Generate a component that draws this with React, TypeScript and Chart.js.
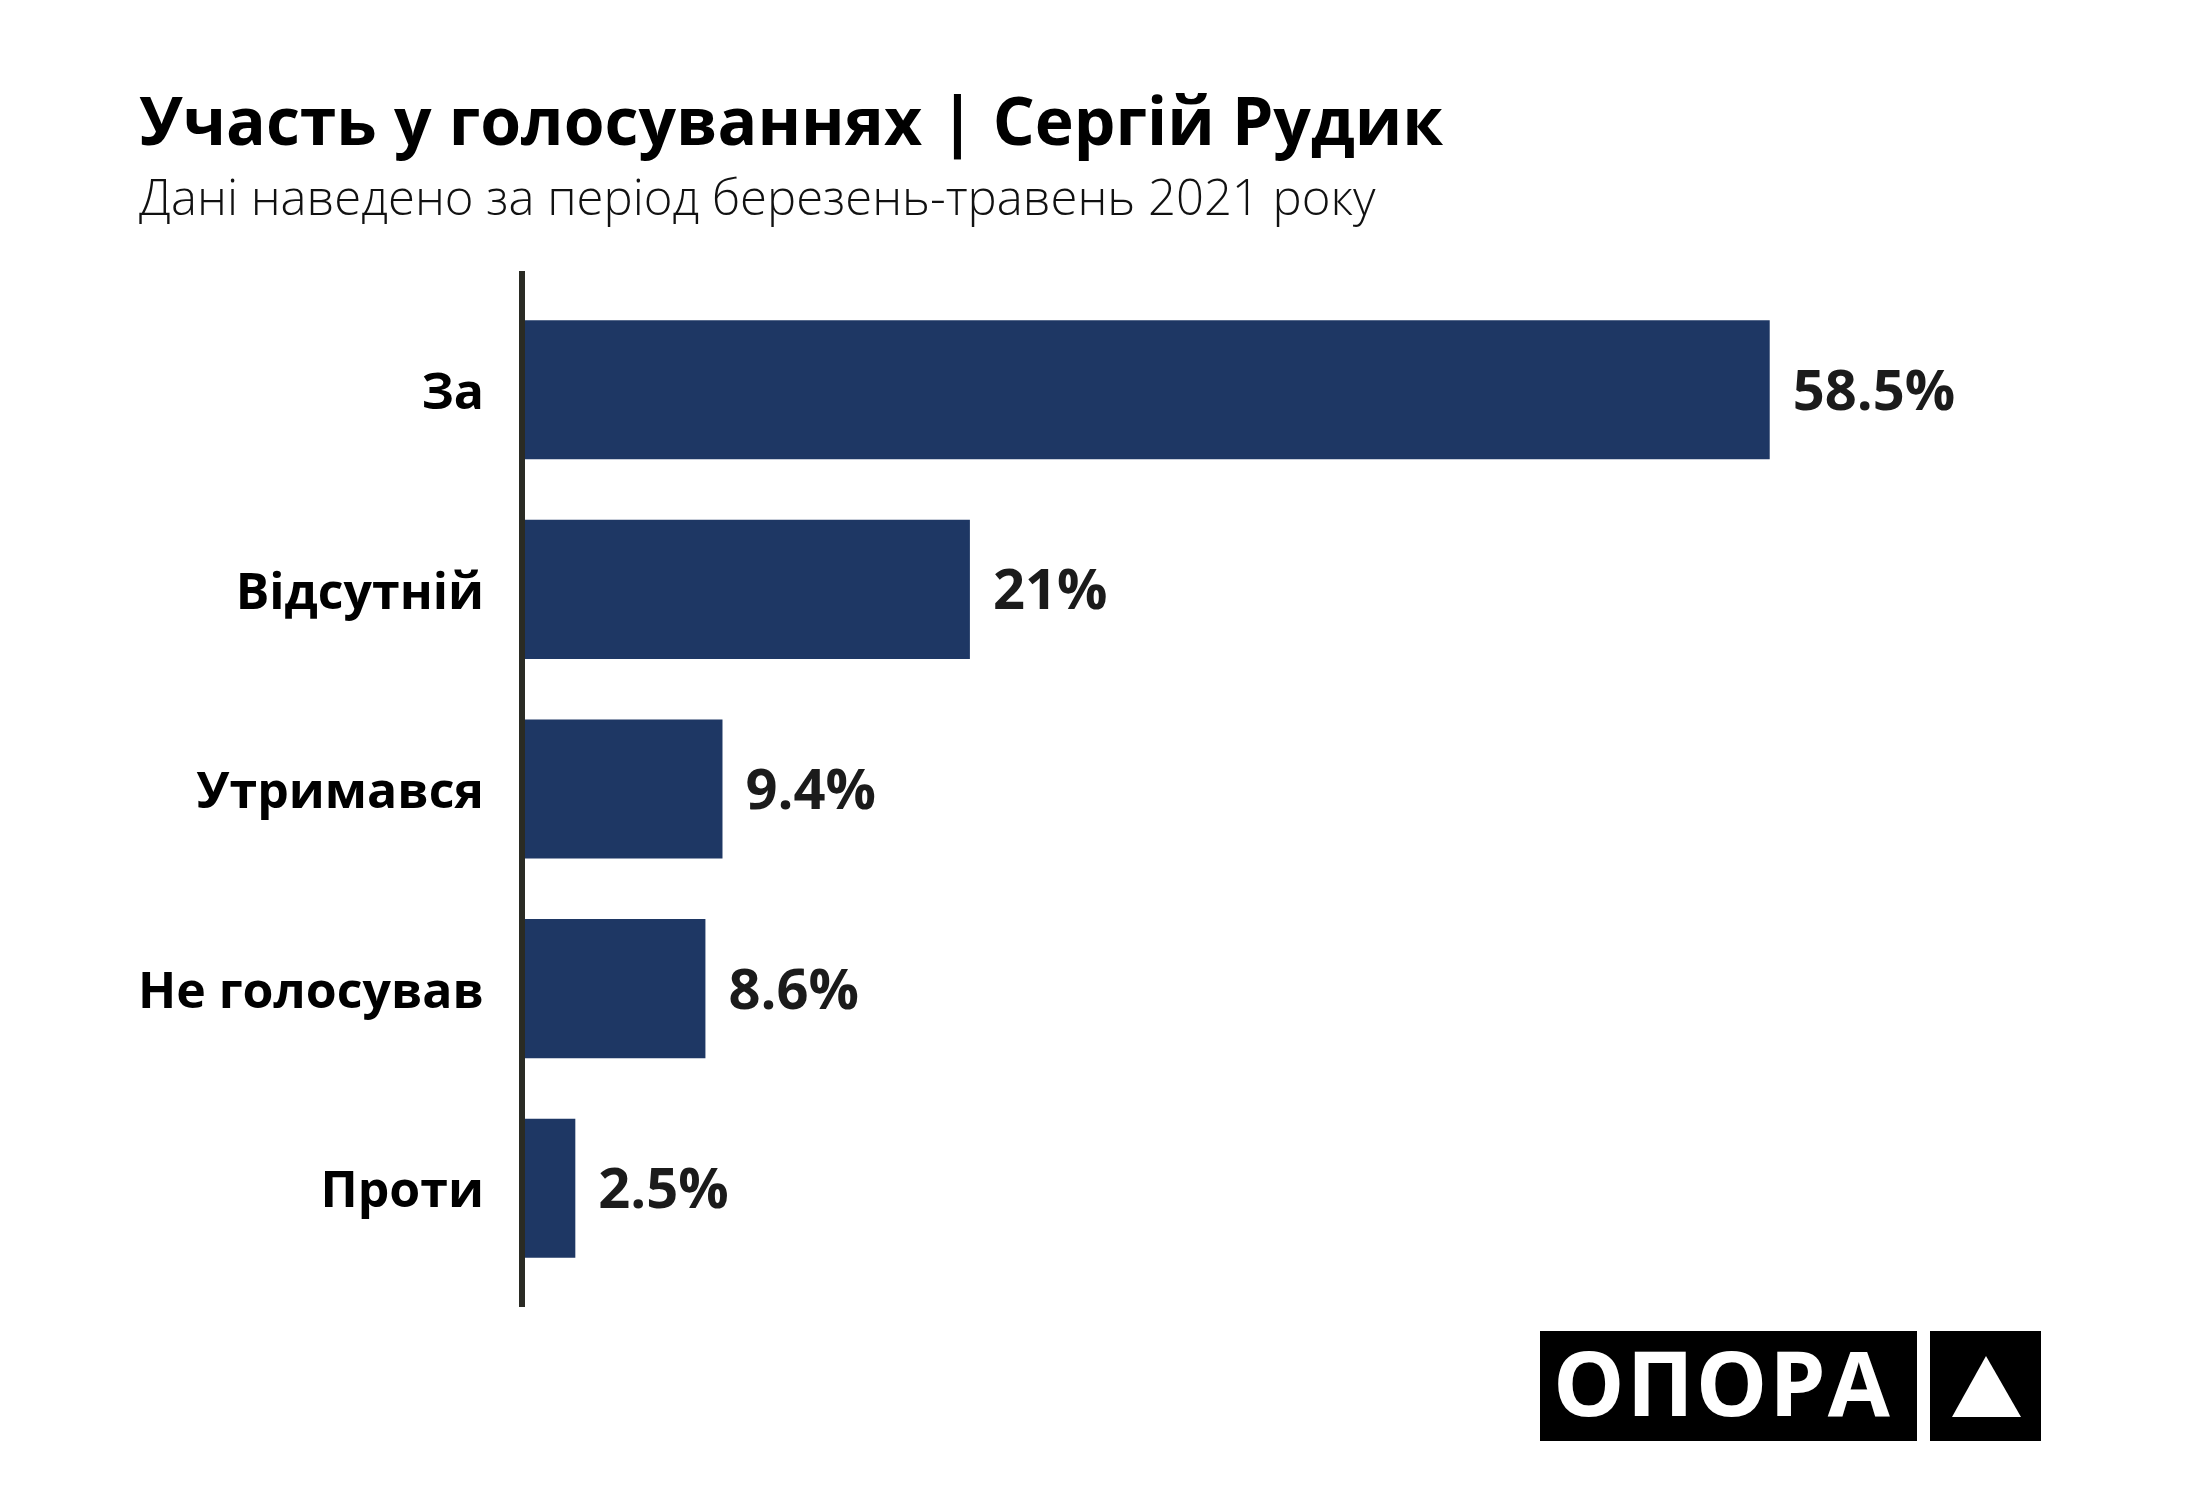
import React, { useEffect, useRef } from "react";
import { Chart, registerables } from "chart.js";

Chart.register(...registerables);

const categories = ["За", "Відсутній", "Утримався", "Не голосував", "Проти"];
const shares = [58.5, 21, 9.4, 8.6, 2.5];
const valueLabels = ["58.5%", "21%", "9.4%", "8.6%", "2.5%"];

const titleText = "Участь у голосуваннях | Сергій Рудик";
const subtitleText = "Дані наведено за період березень-травень 2021 року";
const logoText = "ОПОРА";

const FONT = "'Open Sans', 'Noto Sans', 'DejaVu Sans', sans-serif";

export default function App() {
  const canvasRef = useRef<HTMLCanvasElement | null>(null);

  useEffect(() => {
    document.body.style.margin = "0";
    const canvas = canvasRef.current;
    if (!canvas) return;

    const axisLine = {
      id: "axisLine",
      afterDatasetsDraw(chart: any) {
        const { ctx, chartArea } = chart;
        ctx.save();
        ctx.strokeStyle = "#2a2b24";
        ctx.lineWidth = 6;
        ctx.beginPath();
        ctx.moveTo(chartArea.left, chartArea.top - 19);
        ctx.lineTo(chartArea.left, chartArea.bottom + 19);
        ctx.stroke();
        ctx.restore();
      },
    };

    const valueLabelPlugin = {
      id: "valueLabels",
      afterDatasetsDraw(chart: any) {
        const { ctx } = chart;
        const meta = chart.getDatasetMeta(0);
        ctx.save();
        ctx.font = `bold 56px ${FONT}`;
        ctx.fillStyle = "#1b1b1b";
        ctx.textAlign = "left";
        ctx.textBaseline = "alphabetic";
        meta.data.forEach((bar: any, i: number) => {
          ctx.fillText(valueLabels[i], bar.x + 23, bar.y + 20);
        });
        ctx.restore();
      },
    };

    const chart = new Chart(canvas, {
      type: "bar",
      data: {
        labels: categories,
        datasets: [
          {
            data: shares,
            backgroundColor: "#1e3764",
            borderWidth: 0,
            barPercentage: 0.697,
            categoryPercentage: 1,
          },
        ],
      },
      options: {
        indexAxis: "y",
        animation: false,
        responsive: true,
        maintainAspectRatio: false,
        layout: { padding: { left: 0, right: 185, top: 290, bottom: 212 } },
        plugins: {
          legend: { display: false },
          tooltip: { enabled: false },
          title: { display: false },
        },
        scales: {
          x: {
            display: false,
            min: 0,
            max: 70,
          },
          y: {
            grid: { display: false, drawTicks: false },
            border: { display: false },
            ticks: {
              padding: 38,
              labelOffset: 5,
              color: "#000000",
              font: { family: FONT, size: 50, weight: "bold" },
            },
            afterFit(scale: any) {
              scale.width = 522;
            },
          },
        },
      },
      plugins: [axisLine, valueLabelPlugin],
    });

    return () => {
      chart.destroy();
    };
  }, []);

  return (
    <div
      style={{
        position: "absolute",
        left: 0,
        top: 0,
        width: 2200,
        height: 1500,
        background: "#ffffff",
        fontFamily: FONT,
        overflow: "hidden",
      }}
    >
      <div style={{ position: "absolute", left: 0, top: 0, width: 2200, height: 1500 }}>
        <canvas ref={canvasRef} />
      </div>
      <div
        style={{
          position: "absolute",
          left: 139,
          top: 86,
          fontSize: 66,
          lineHeight: 1,
          fontWeight: 700,
          color: "#000",
          whiteSpace: "nowrap",
        }}
      >
        {titleText}
      </div>
      <div
        style={{
          position: "absolute",
          left: 139,
          top: 172,
          fontSize: 49,
          lineHeight: 1,
          fontWeight: 300,
          color: "#111",
          whiteSpace: "nowrap",
        }}
      >
        {subtitleText}
      </div>
      <div
        style={{
          position: "absolute",
          left: 1540,
          top: 1331,
          width: 377,
          height: 110,
          background: "#000",
        }}
      >
        <div
          style={{
            position: "absolute",
            left: 13,
            top: 5,
            fontSize: 90,
            lineHeight: 1,
            fontWeight: 700,
            letterSpacing: 2,
            color: "#fff",
            whiteSpace: "nowrap",
          }}
        >
          {logoText}
        </div>
      </div>
      <svg
        style={{ position: "absolute", left: 1930, top: 1331 }}
        width={111}
        height={110}
        viewBox="0 0 111 110"
      >
        <rect x={0} y={0} width={111} height={110} fill="#000" />
        <polygon points="56,25 22,86 91,86" fill="#fff" />
      </svg>
    </div>
  );
}
